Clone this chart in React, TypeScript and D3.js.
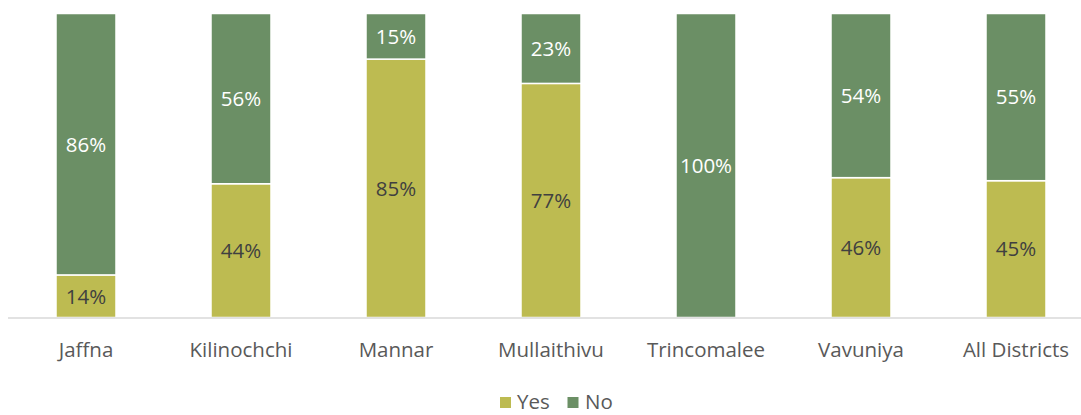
import React from "react";
import * as d3 from "d3";

const categories = ["Jaffna", "Kilinochchi", "Mannar", "Mullaithivu", "Trincomalee", "Vavuniya", "All Districts"];
const yesValues = [14, 44, 85, 77, 0, 46, 45];
const noValues = [86, 56, 15, 23, 100, 54, 55];
const seriesNames = ["Yes", "No"];
const seriesColors = ["#BDBB51", "#6B8F65"];
const labelColors = ["#404040", "#FFFFFF"];

const W = 1081;
const H = 415;
const FONT = "'Open Sans', 'Liberation Sans', sans-serif";

export default function App() {
  const x = d3.scaleBand<string>().domain(categories).range([8.5, 1093.5]).paddingInner(0.613).paddingOuter(0.3065);
  const y = d3.scaleLinear().domain([0, 100]).range([317.5, 13.5]);

  const rows = categories.map((c, i) => ({ cat: c, Yes: yesValues[i], No: noValues[i] }));
  const stacked = d3.stack<any>().keys(seriesNames)(rows);

  return (
    <div style={{ position: "absolute", left: 0, top: 0 }}>
      <svg width={W} height={H} style={{ display: "block" }} fontFamily={FONT}>
        <rect width={W} height={H} fill="#fff" />
        {stacked.map((s, si) => (
          <g key={s.key}>
            {s.map((d, i) => {
              const v = d[1] - d[0];
              if (v <= 0) return null;
              const x0 = x(categories[i])!;
              const yTop = y(d[1]);
              const yBot = y(d[0]);
              return (
                <g key={i}>
                  <rect x={x0} y={yTop} width={x.bandwidth()} height={yBot - yTop} fill={seriesColors[si]} stroke="#fff" strokeWidth={1.5} />
                  <text x={x0 + x.bandwidth() / 2} y={(yTop + yBot) / 2} dy="0.36em" textAnchor="middle" fontSize={20.5} fill={labelColors[si]}>
                    {`${v}%`}
                  </text>
                </g>
              );
            })}
          </g>
        ))}
        <line x1={8} x2={W} y1={318} y2={318} stroke="#D9D9D9" strokeWidth={1.5} />
        {categories.map((c) => (
          <text key={c} x={x(c)! + x.bandwidth() / 2} y={357} textAnchor="middle" fontSize={20.5} fill="#595959">
            {c}
          </text>
        ))}
        <g>
          <rect x={500} y={397} width={11} height={11} fill={seriesColors[0]} />
          <text x={517} y={409} fontSize={20.5} fill="#595959">{seriesNames[0]}</text>
          <rect x={567.5} y={397} width={11} height={11} fill={seriesColors[1]} />
          <text x={585} y={409} fontSize={20.5} fill="#595959">{seriesNames[1]}</text>
        </g>
      </svg>
    </div>
  );
}
